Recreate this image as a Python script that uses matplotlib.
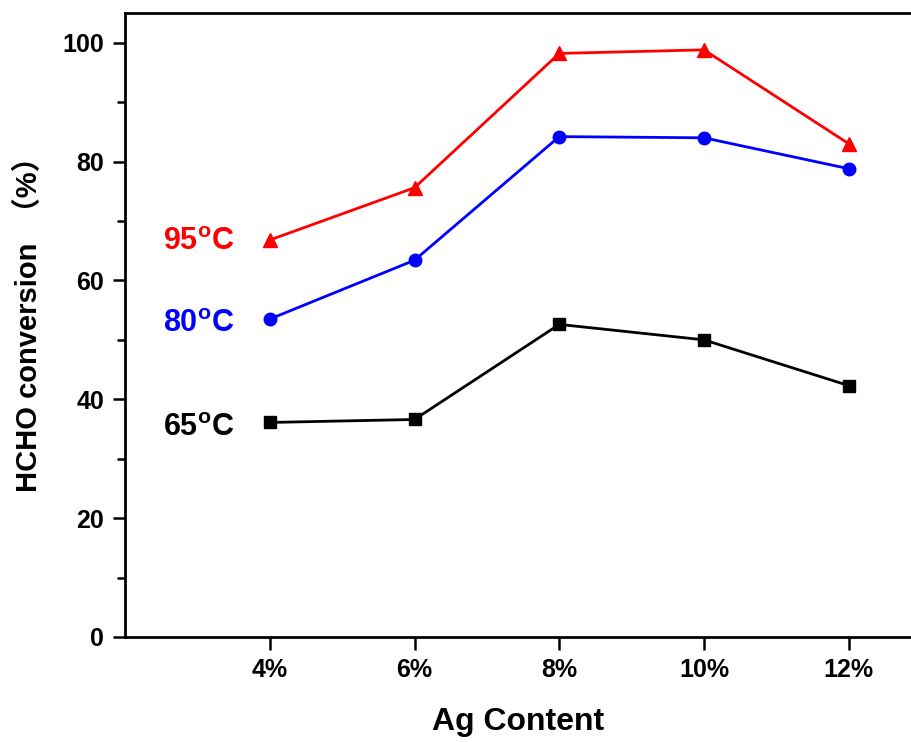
import matplotlib
matplotlib.use("Agg")
import matplotlib.pyplot as plt
from matplotlib.ticker import MultipleLocator

# data
ag_labels = ["4%", "6%", "8%", "10%", "12%"]
conv_95 = [66.8, 75.6, 98.2, 98.8, 83.0]
conv_80 = [53.5, 63.4, 84.2, 84.0, 78.8]
conv_65 = [36.1, 36.6, 52.6, 50.0, 42.3]

plt.rcParams['font.family'] = ['Liberation Sans', 'Noto Sans CJK SC', 'DejaVu Sans']
plt.rcParams['font.weight'] = 'bold'
plt.rcParams['mathtext.fontset'] = 'custom'
plt.rcParams['mathtext.rm'] = 'Liberation Sans:bold'
plt.rcParams['mathtext.it'] = 'Liberation Sans:bold'
plt.rcParams['mathtext.bf'] = 'Liberation Sans:bold'

fig = plt.figure(figsize=(9.11, 7.42), dpi=100)
ax = fig.add_axes([125 / 911, 1 - 637 / 742, (911 - 125) / 911, (637 - 13) / 742])

x = list(range(1, len(ag_labels) + 1))
ax.plot(x, conv_95, color='#ff0000', lw=2, marker='^', ms=10)
ax.plot(x, conv_80, color='#0000ff', lw=2, marker='o', ms=9)
ax.plot(x, conv_65, color='black', lw=2, marker='s', ms=8)

ax.text(0.26, 66.5, r'95$^\mathregular{o}$C', color='#ff0000', fontsize=22,
        fontweight='bold', va='center', ha='left')
ax.text(0.26, 52.7, r'80$^\mathregular{o}$C', color='#0000ff', fontsize=22,
        fontweight='bold', va='center', ha='left')
ax.text(0.26, 35.2, r'65$^\mathregular{o}$C', color='black', fontsize=22,
        fontweight='bold', va='center', ha='left')

ax.set_xlim(0, 5.43)
ax.set_ylim(0, 105)
ax.set_xticks(x)
ax.set_xticklabels(ag_labels)
ax.yaxis.set_major_locator(MultipleLocator(20))
ax.yaxis.set_minor_locator(MultipleLocator(10))

ax.tick_params(axis='both', which='major', direction='out', length=9, width=1.8,
               labelsize=18, pad=6)
ax.tick_params(axis='y', which='minor', direction='out', length=6, width=1.8)
for lab in ax.get_xticklabels() + ax.get_yticklabels():
    lab.set_fontweight('bold')

for side in ['left', 'bottom', 'top']:
    ax.spines[side].set_linewidth(2)
ax.spines['right'].set_visible(False)

ax.set_xlabel('Ag Content', fontsize=23, fontweight='bold', labelpad=18)
ax.set_ylabel('HCHO conversion  （%）', fontsize=21, fontweight='bold', labelpad=16)
ax.yaxis.set_label_coords(-0.104, 0.512)

fig.savefig('out.png', dpi=100)
